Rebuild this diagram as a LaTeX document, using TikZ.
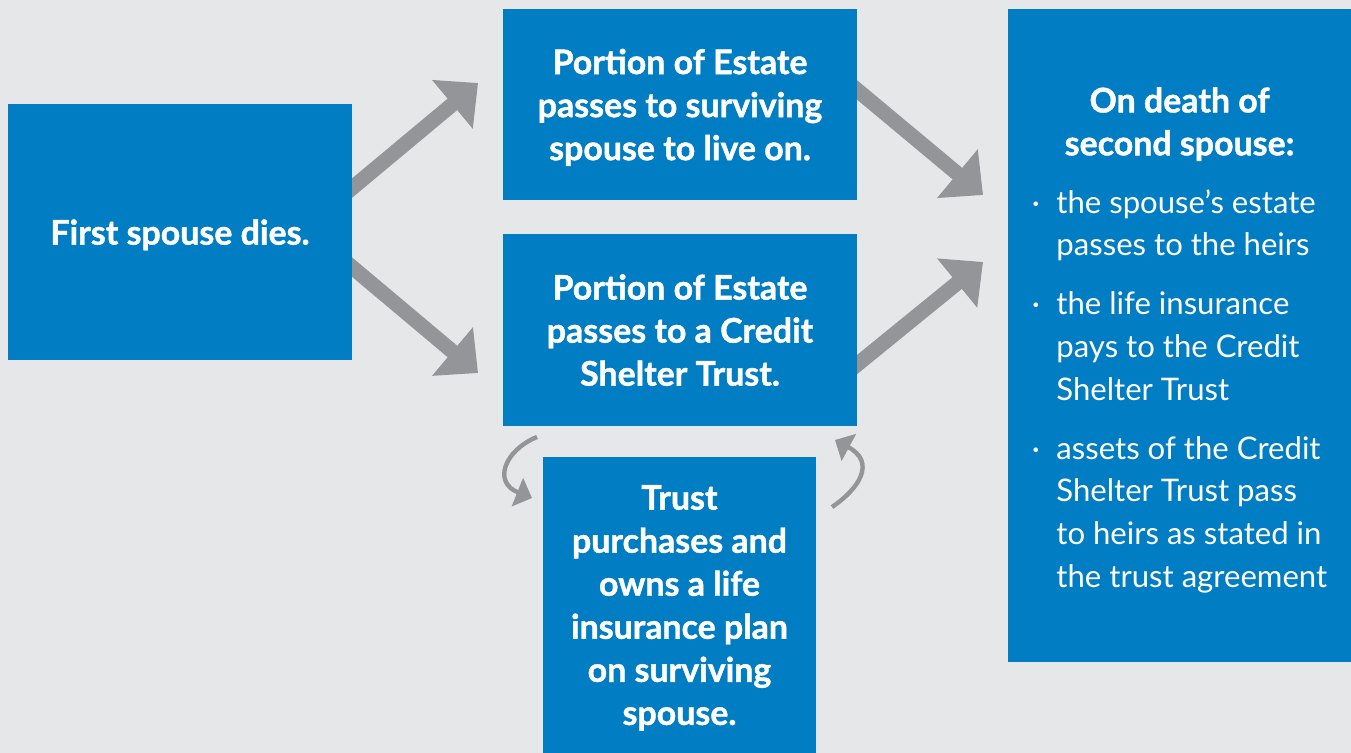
\documentclass[tikz,border=0pt]{standalone}
\usepackage{fontspec}
\setmainfont{Lato}[BoldFeatures={FakeBold=1.2}]
\usetikzlibrary{calc,arrows.meta,backgrounds}
\definecolor{estateblue}{RGB}{0,125,195}
\definecolor{panelgrey}{RGB}{230,231,232}
\definecolor{arrowgrey}{RGB}{147,149,152}

\begin{document}
\begin{tikzpicture}[x=0.02cm,y=-0.02cm,
  box/.style={fill=estateblue,text=white,inner sep=0pt,outer sep=0pt,align=center,text depth=0pt,font=\bfseries\fontsize{19.3}{24.5}\selectfont},
  bigarrow/.style={color=arrowgrey,line width=8.5pt,-{Triangle[width=35pt,length=19pt]}},
  smallarrow/.style={color=arrowgrey,line width=2.5pt,-{Triangle[width=17pt,length=9pt]}}]
  \useasboundingbox (0,0) rectangle (1351,753);
  \begin{scope}[on background layer]
    \fill[panelgrey] (0,0) rectangle (1351,753);
  \end{scope}
  \node[box,minimum width=6.88cm,minimum height=5.12cm] (first) at (180,232) {First spouse dies.};
  \node[box,minimum width=7.08cm,minimum height=3.82cm] (live) at (680,104.5) {Portion of Estate\\passes to surviving\\spouse to live on.};
  \node[box,minimum width=7.08cm,minimum height=3.84cm] (trust) at (680,330) {Portion of Estate\\passes to a Credit\\Shelter Trust.};
  \node[box,minimum width=5.46cm,minimum height=5.92cm] (plan) at (679.5,605) {Trust\\purchases and\\owns a life\\insurance plan\\on surviving\\spouse.};
  \node[box,minimum width=6.86cm,minimum height=13.06cm] (second) at (1179.5,335.5) {};
  \node[text=white,inner sep=0pt,font=\fontsize{17.7}{24.4}\selectfont] (secondtext) at ($(second.center)+(0,6)$) {\begin{tabular}{@{}p{14pt}@{}l@{}}
    \multicolumn{2}{c}{\bfseries\fontsize{19.3}{24.5}\selectfont On death of}\\
    \multicolumn{2}{c}{\bfseries\fontsize{19.3}{24.5}\selectfont second spouse:}\\[8.5pt]
    · & the spouse’s estate\\ & passes to the heirs\\[9pt]
    · & the life insurance\\ & pays to the Credit\\ & Shelter Trust\\[9pt]
    · & assets of the Credit\\ & Shelter Trust pass\\ & to heirs as stated in\\ & the trust agreement
  \end{tabular}};
  \coordinate (p1) at ($(trust.south west)+(34,11)$);
  \coordinate (p2) at ($(plan.north west)+(-11,41)$);
  \coordinate (p3) at ($(plan.north east)+(16,50)$);
  \coordinate (p4) at ($(trust.south east)+(-22,14)$);
  \begin{scope}[on background layer]
    \draw[bigarrow] ($(first.east)+(-25,-23)$) -- ($(live.west)+(-25,-21.5)$);
    \draw[bigarrow] ($(first.east)+(-25,14)$) -- ($(trust.west)+(-25,43)$);
    \draw[bigarrow] ($(live.east)+(-25,-35.5)$) -- ($(second.west)+(-25,-140.5)$);
    \draw[bigarrow] ($(trust.east)+(-25,55)$) -- ($(second.west)+(-25,-73.5)$);
  \end{scope}
  \draw[smallarrow] (p1) .. controls ($(p1)+(-32,13)$) and ($(p2)+(-40,-16)$) .. (p2);
  \draw[smallarrow] (p3) .. controls ($(p3)+(28,-19)$) and ($(p4)+(41,22)$) .. (p4);
\end{tikzpicture}
\end{document}
